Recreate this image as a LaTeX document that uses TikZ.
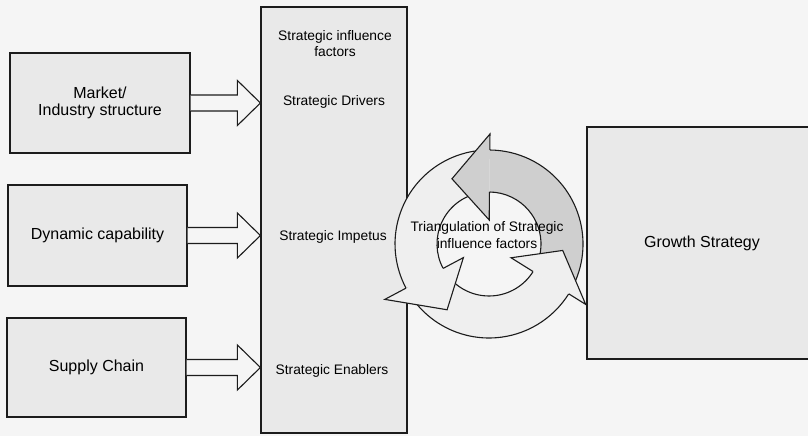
\documentclass[tikz,border=0pt]{standalone}
\usepackage{fontspec}
\setmainfont{Liberation Sans}
\usetikzlibrary{calc}
\definecolor{paper}{HTML}{F5F5F5}
\definecolor{boxfill}{HTML}{E9E9E9}
\definecolor{ringdark}{HTML}{CFCFCF}
\definecolor{ringlight}{HTML}{EFEFEF}
\definecolor{ink}{HTML}{1C1C1C}
% ring segment of the cycle: colour, start angle, end angle
\newcommand\ringbody[3]{%
  \fill[#1] (#2:94) arc[start angle=#2, end angle=#3, radius=94]
    -- (#3:52) arc[start angle=#3, end angle=#2, radius=52] -- cycle;}
\newcommand\ringedges[2]{%
  \draw[ringline] (#1:94) arc[start angle=#1, end angle=#2, radius=94];
  \draw[ringline] (#1:52) arc[start angle=#1, end angle=#2, radius=52];}
% arrow head: colour, base angle, outer barb radius, inner barb radius, tip angle, tip radius
\newcommand\ringhead[6]{%
  \filldraw[fill=#1, ringline] (#2:94) -- (#2:#3) -- (#5:#6) -- (#2:#4) -- (#2:52);}
\begin{document}
\begin{tikzpicture}[x=1pt, y=1pt,
  box/.style={draw=ink, line width=1.2pt, fill=boxfill, inner sep=0pt, align=center,
    font=\fontsize{16}{16.5}\selectfont},
  lbl/.style={font=\fontsize{13.8}{16}\selectfont, align=center, inner sep=0pt},
  barrow/.style={draw=ink, line width=1.1pt, fill=paper, line join=miter},
  blockarrow/.style={to path={let \p1=(\tikztostart), \p2=(\tikztotarget) in
    (\x1,\y1+8pt) -- (\x2-23pt,\y1+8pt) -- (\x2-23pt,\y1+22.5pt) -- (\x2,\y1)
    -- (\x2-23pt,\y1-22.5pt) -- (\x2-23pt,\y1-8pt) -- (\x1,\y1-8pt)}},
  ringline/.style={draw=ink, line width=1.1pt, line join=miter},
]
\useasboundingbox (0,0) rectangle (808,436);
\clip (0,0) rectangle (808,436);
\fill[paper] (0,0) rectangle (808,436);

% input boxes
\node[box, minimum width=180, minimum height=100] (mk) at (100,333) {Market/\\Industry structure};
\node[box, minimum width=179, minimum height=101] (dc) at (97.5,200.5) {Dynamic capability};
\node[box, minimum width=179, minimum height=99] (sc) at (96.5,68.5) {Supply Chain};

% column of strategic influence factors
\node[box, minimum width=146, minimum height=426] (col) at (334,216) {};
\node[lbl] (sif) at (335,392) {Strategic influence\\factors};
\node[lbl] (drv) at (334,334) {Strategic Drivers};
\node[lbl] (imp) at (333,199) {Strategic Impetus};
\node[lbl] (enb) at (332,65) {Strategic Enablers};

% outcome box
\node[box, minimum width=230, minimum height=232] (gs) at (702,193) {Growth Strategy};

% block arrows into the column
\draw[barrow] (mk.east) to[blockarrow] (col.west |- mk.east);
\draw[barrow] (dc.east) to[blockarrow] (col.west |- dc.east);
\draw[barrow] (sc.east) to[blockarrow] (col.west |- sc.east);

% triangulation cycle
\coordinate (tri) at (489,192);
\begin{scope}[shift={(tri)}]
  \ringbody{ringdark}{-26}{89.5}
  \ringbody{ringlight}{95.5}{208}
  \ringbody{ringlight}{214}{328}
  \ringedges{-26}{89.5}
  \ringedges{95.5}{208}
  \ringedges{214}{328}
  \ringhead{ringdark}{89.5}{110}{24}{119.6}{75}
  \ringhead{ringlight}{208}{118}{29}{237.5}{78}
  \ringhead{ringlight}{328}{114}{26}{355}{74}
\end{scope}
\node[lbl, font=\fontsize{13.8}{17}\selectfont] (trl) at (487,200.5) {Triangulation of Strategic\\influence factors};
\end{tikzpicture}
\end{document}
